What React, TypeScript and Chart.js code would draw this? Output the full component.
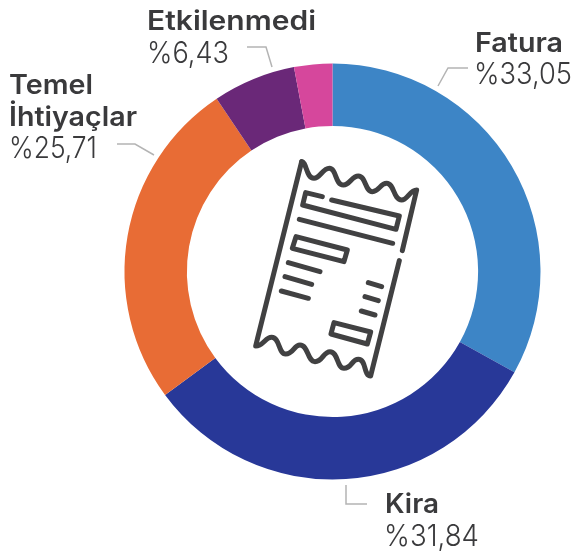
import React, { useEffect, useRef } from "react";
import { Chart, registerables } from "chart.js";

Chart.register(...registerables);

const categories = ["Fatura", "Kira", "Temel İhtiyaçlar", "Etkilenmedi", "Diğer"];
const shares = [33.05, 31.84, 25.71, 6.43, 2.97];
const colors = ["#3d85c6", "#283898", "#e86c35", "#6a2878", "#d6479c"];

const FONT = "Inter, 'Open Sans', sans-serif";

const labels = [
  { x: 147, y: 30, t: "Etkilenmedi", w: 600, s: 26.5, len: 169 },
  { x: 147, y: 63, t: "%6,43", w: 300, s: 30, len: 82 },
  { x: 9, y: 94, t: "Temel", w: 600, s: 27, len: 84 },
  { x: 9, y: 126, t: "İhtiyaçlar", w: 600, s: 27, len: 128 },
  { x: 9, y: 158, t: "%25,71", w: 300, s: 30, len: 88 },
  { x: 385, y: 513, t: "Kira", w: 600, s: 27, len: 54 },
  { x: 384, y: 546, t: "%31,84", w: 300, s: 30, len: 95 },
  { x: 475, y: 52, t: "Fatura", w: 600, s: 27, len: 88 },
  { x: 474, y: 84, t: "%33,05", w: 300, s: 30, len: 98 },
];

const leaders = [
  "M247 47 H266 L272 67",
  "M117 144 H135 L154 155",
  "M346 485 V504 H367",
  "M438 86 L448 68 H468",
];

const iconStroke = [
  "M185 35 C200 35 198 85 222 85 C240 85 248 55 268 55 C290 55 285 105 310 105 C330 105 335 78 355 78 C378 78 375 125 397 125 C418 125 420 100 440 100 C463 100 460 150 485 150 C502 150 510 120 530 120 L487 302",
  "M478 332 L392 678 C370 678 380 628 355 628 C335 628 335 655 312 655 C290 655 295 605 270 605 C250 605 248 635 225 635 C202 635 205 585 180 585 C162 585 160 612 137 612 C115 612 120 562 95 562 C75 562 70 588 47 588 L185 35",
  "M247 140 L197 128 L188 165 L468 238 L478 198 L275 150",
  "M178 208 L458 280",
  "M168 260 L322 300 L312 335 L157 295 Z",
  "M145 338 L240 365",
  "M135 380 L215 403",
  "M124 423 L205 445",
  "M385 398 L425 410",
  "M375 440 L415 452",
  "M364 483 L405 495",
  "M282 518 L392 546 L382 582 L273 552 Z",
];

export default function App() {
  const ref = useRef<HTMLCanvasElement>(null);
  useEffect(() => {
    if (!ref.current) return;
    const chart = new Chart(ref.current, {
      type: "doughnut",
      data: {
        labels: categories,
        datasets: [{ data: shares, backgroundColor: colors, borderWidth: 0 }],
      },
      options: {
        animation: false,
        responsive: false,
        cutout: "70%",
        layout: { padding: { left: 124.5, right: 31.5, top: 63.5, bottom: 76.5 } },
        plugins: { legend: { display: false }, tooltip: { enabled: false } },
      },
    });
    return () => chart.destroy();
  }, []);

  return (
    <div style={{ position: "fixed", left: 0, top: 0, width: 572, height: 556, background: "#fff" }}>
      <canvas ref={ref} width={572} height={556} style={{ position: "absolute", left: 0, top: 0 }} />
      <svg width={572} height={556} style={{ position: "absolute", left: 0, top: 0 }}>
        {leaders.map((d, i) => (
          <path key={i} d={d} fill="none" stroke="#b4b4b4" strokeWidth={1.5} />
        ))}
        <g transform="translate(240 150) scale(0.3333)">
          {iconStroke.map((d, i) => (
            <path key={i} d={d} fill="none" stroke="#414142" strokeWidth={15} strokeLinecap="round" strokeLinejoin="round" />
          ))}
        </g>
        {labels.map((l, i) => (
          <text key={i} x={l.x} y={l.y} fontFamily={FONT} fontWeight={l.w} fontSize={l.s} fill="#3a3a3c" textLength={l.len} lengthAdjust="spacingAndGlyphs">
            {l.t}
          </text>
        ))}
      </svg>
    </div>
  );
}
